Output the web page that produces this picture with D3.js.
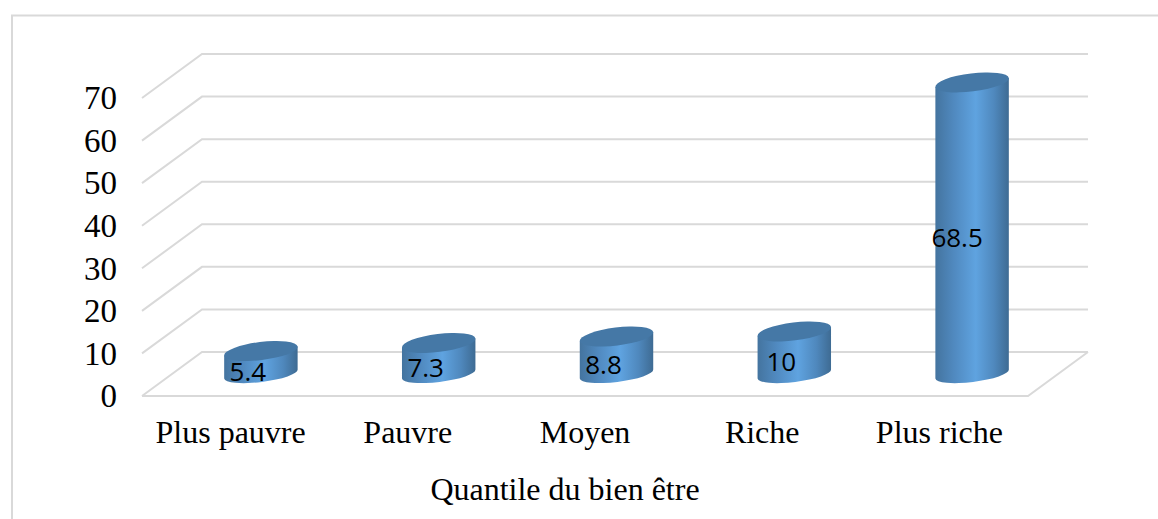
<!DOCTYPE html>
<html><head><meta charset="utf-8">
<script src="https://cdnjs.cloudflare.com/ajax/libs/d3/7.8.5/d3.min.js"></script>
<style>html,body{margin:0;padding:0;background:#fff}svg{display:block}
text{font-family:"Liberation Serif",serif;fill:#000}
.val{font-family:"Open Sans",sans-serif}</style></head><body>
<svg id="c" width="1158" height="519"></svg>
<script>
const categories = ["Plus pauvre","Pauvre","Moyen","Riche","Plus riche"];
const values = [5.4,7.3,8.8,10,68.5];
const valueLabels = ["5.4","7.3","8.8","10","68.5"];
const yTicks = [0,10,20,30,40,50,60,70];
const xTitle = "Quantile du bien être";

const svg = d3.select("#c");
const grid = "#d9d9d9";
const depthX = 60, depthY = -44;
const x = d3.scaleBand().domain(categories).range([142,1028]);
const xBar = d3.scaleBand().domain(categories).range([142,1031]);
const y = d3.scaleLinear().domain([0,70]).range([396,98]);

svg.append("rect").attr("x",12).attr("y",15.5).attr("width",1170).attr("height",520)
  .attr("fill","#fff").attr("stroke",grid).attr("stroke-width",2);

const defs = svg.append("defs");
const g = defs.append("linearGradient").attr("id","cyl");
[[0,"#44749f"],[0.25,"#5089bf"],[0.55,"#5fa3e0"],[0.8,"#4f88bd"],[1,"#3e6b93"]].forEach(s=>
  g.append("stop").attr("offset",s[0]).attr("stop-color",s[1]));

const gl = svg.append("g").attr("fill","none").attr("stroke",grid).attr("stroke-width",2);
yTicks.forEach(t=>{
  gl.append("path").attr("d",d3.line()([
    [x.range()[0],y(t)],[x.range()[0]+depthX,y(t)+depthY],[x.range()[1]+depthX,y(t)+depthY]]));
});
gl.append("path").attr("d",d3.line()([
  [x.range()[0],y(0)],[x.range()[1],y(0)],[x.range()[1]+depthX,y(0)+depthY]]));

svg.append("g").selectAll("text").data(yTicks).join("text")
  .attr("x",117).attr("y",d=>y(d)).attr("dy","0.34em").attr("text-anchor","end")
  .attr("font-size",33).text(d=>d);

svg.append("g").selectAll("text").data(categories).join("text")
  .attr("x",d=>x(d)+x.bandwidth()/2).attr("y",443).attr("text-anchor","middle")
  .attr("font-size",32).text(d=>d);

svg.append("text").attr("x",565).attr("y",500).attr("text-anchor","middle")
  .attr("font-size",32).text(xTitle);

const rx = 37, ry = 8, tilt = -7;
const dx = rx*Math.cos(tilt*Math.PI/180), dy = -rx*Math.sin(tilt*Math.PI/180);
const bars = svg.append("g").selectAll("g").data(categories.map((c,i)=>({c,v:values[i],l:valueLabels[i]}))).join("g");
const cx = d=>xBar(d.c)+xBar.bandwidth()/2+depthX/2;
const base = y(0)+depthY/2;
const topY = d=>base-(y(0)-y(d.v));
bars.append("path").attr("fill","url(#cyl)").attr("d",d=>{
  const X=cx(d),T=topY(d);
  return `M${X-dx},${T+dy}L${X-dx},${base+dy}A${rx},${ry} ${tilt} 0 0 ${X+dx},${base-dy}L${X+dx},${T-dy}Z`;
});
bars.append("ellipse").attr("rx",rx).attr("ry",ry+1).attr("fill","#4578a6")
  .attr("transform",d=>`translate(${cx(d)},${topY(d)}) rotate(${tilt})`);
bars.append("text").attr("class","val").attr("font-size",26).attr("text-anchor","middle").attr("dy","0.36em")
  .attr("x",d=>cx(d)-(d.v>50?15:13))
  .attr("y",d=>(base+topY(d))/2+9)
  .text(d=>d.l);
</script></body></html>
